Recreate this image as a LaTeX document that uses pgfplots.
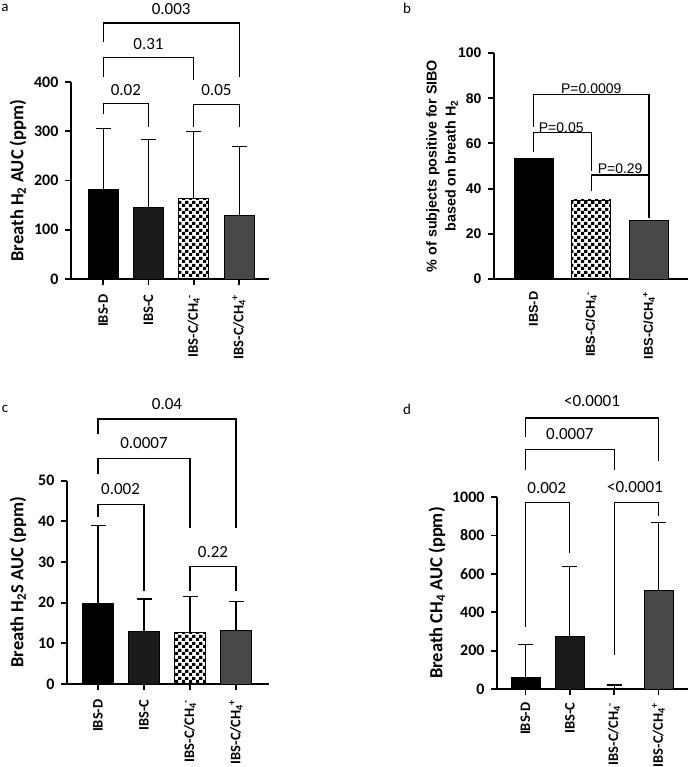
\documentclass[border=0pt]{standalone}
\usepackage{fontspec}
\setmainfont{Carlito}
\newfontfamily\arialf{Liberation Sans}
\usepackage{pgfplots}
\pgfplotsset{compat=1.18}
\usetikzlibrary{patterns}
\pgfdeclarepatternformonly{checker}{\pgfqpoint{0pt}{0pt}}{\pgfqpoint{7pt}{7pt}}{\pgfqpoint{7pt}{7pt}}{%
 \pgfpathrectangle{\pgfqpoint{0pt}{0pt}}{\pgfqpoint{3.5pt}{3.5pt}}%
 \pgfpathrectangle{\pgfqpoint{3.5pt}{3.5pt}}{\pgfqpoint{3.5pt}{3.5pt}}%
 \pgfusepath{fill}}
\definecolor{cD}{RGB}{0,0,0}
\definecolor{cC}{RGB}{26,26,26}
\definecolor{cP}{RGB}{72,72,72}
\newcommand\stk[2]{\textsubscript{#1}\kern-0.5pt\textsuperscript{#2}}
\pgfplotsset{
  panel/.style={
    scale only axis, anchor=south west, clip=false,
    axis x line*=bottom, axis y line*=left,
    axis line style={line width=1.8pt,-},
    tick style={line width=1.8pt,black}, major tick length=6pt, tick align=outside,
    /pgf/number format/assume math mode=true,
    /pgf/number format/1000 sep={},
    scaled y ticks=false, ymin=0,
    xtick={0,1,2,3},
    xticklabels={IBS-D,IBS-C,IBS-C/CH\stk{4}{-},IBS-C/CH\stk{4}{+}},
    x tick label style={rotate=90, anchor=east, font=\bfseries\fontsize{14.5}{14.5}\selectfont},
    xticklabel shift=6pt,
    y tick label style={font=\bfseries\fontsize{16}{16}\selectfont},
    yticklabel shift=3pt,
    ylabel style={anchor=center, font=\bfseries\fontsize{18.5}{18.5}\selectfont},
  },
  bars/.style={ybar, bar shift=0pt, draw=black, line width=0.8pt,
    error bars/y dir=plus, error bars/y explicit,
    error bars/error bar style={line width=1.2pt,black},
    error bars/error mark options={rotate=90, mark size=7.5pt, line width=1.2pt, black}},
  brk/.style={black, line width=1.2pt, mark=none},
}
\newcommand\plab[3]{\node[font=\fontsize{17}{17}\selectfont] at (axis cs:#1,#2) {#3};}
\newcommand\blab[3]{\node[font=\arialf\fontsize{14}{14}\selectfont] at (axis cs:#1,#2) {#3};}
\begin{document}
\begin{tikzpicture}
\useasboundingbox (0,0) rectangle (695pt,-767pt);
\node[font=\fontsize{15}{15}\selectfont] at (5pt,-8pt) {a};
\node[font=\fontsize{15}{15}\selectfont] at (407pt,-8pt) {b};
\node[font=\fontsize{15}{15}\selectfont] at (5pt,-409pt) {c};
\node[font=\fontsize{15}{15}\selectfont] at (407pt,-409pt) {d};
% ---------------- panel a
\begin{axis}[panel, at={(71pt,-279pt)}, width=198pt, height=197pt,
  xmin=-0.71, xmax=3.66, ymax=400, ytick={0,100,200,300,400},
  ylabel={Breath H\textsubscript{2} AUC (ppm)},
  ylabel style={at={(axis description cs:-0.268,0.5)}}]
\addplot[bars, bar width=30pt, fill=cD] coordinates {(0,182) +- (0,124)};
\addplot[bars, bar width=30pt, fill=cC] coordinates {(1,146) +- (0,138)};
\addplot[bars, bar width=30pt, pattern=checker, pattern color=black] coordinates {(2,164) +- (0,135)};
\addplot[bars, bar width=30pt, fill=cP] coordinates {(3,129) +- (0,140)};
\addplot[brk] coordinates {(0,336) (0,357) (1,357) (1,309)};
\addplot[brk] coordinates {(2,309) (2,355) (3,355) (3,309)};
\addplot[brk] coordinates {(0,411) (0,450) (2,450) (2,405)};
\addplot[brk] coordinates {(0,482) (0,520) (3,520) (3,411)};
\plab{0.5}{384}{0.02}
\plab{2.5}{384}{0.05}
\plab{1}{478}{0.31}
\plab{1.5}{549}{0.003}
\end{axis}
% ---------------- panel b
\begin{axis}[panel, at={(494pt,-279pt)}, width=194pt, height=226pt,
  xmin=-0.684, xmax=2.675, ymax=100, ytick={0,20,40,60,80,100},
  xtick={0,1,2}, xticklabels={IBS-D,IBS-C/CH\stk{4}{-},IBS-C/CH\stk{4}{+}},
  x tick label style={font=\arialf\bfseries\fontsize{12.8}{12.8}\selectfont},
  xtick style={draw=none}, xticklabel shift=3pt,
  y tick label style={font=\arialf\bfseries\fontsize{14}{14}\selectfont},
  ylabel={\% of subjects positive for SIBO\\based on breath H\textsubscript{2}},
  ylabel style={at={(axis description cs:-0.268,0.5)}, align=center,
    font=\arialf\bfseries\fontsize{14.3}{19}\selectfont}]
\addplot[bars, bar width=39pt, fill=cD] coordinates {(0,53.2)};
\addplot[bars, bar width=39pt, pattern=checker, pattern color=black] coordinates {(1,35.0)};
\addplot[bars, bar width=39pt, fill=cP] coordinates {(2,25.9)};
\addplot[brk] coordinates {(0,67.4) (0,81.5) (2,81.5) (2,26.9)};
\addplot[brk] coordinates {(0,56.3) (0,64.7) (1,64.7) (1,47.8)};
\addplot[brk] coordinates {(1,39.1) (1,46) (2,46) (2,26.9)};
\blab{1}{84}{P=0.0009}
\blab{0.48}{67}{P=0.05}
\blab{1.5}{49}{P=0.29}
\end{axis}
% ---------------- panel c
\begin{axis}[panel, at={(67pt,-684pt)}, width=202pt, height=203.3pt,
  xmin=-0.674, xmax=3.717, ymax=50, ytick={0,10,20,30,40,50},
  ylabel={Breath H\textsubscript{2}S AUC (ppm)},
  ylabel style={at={(axis description cs:-0.243,0.5)}}]
\addplot[bars, bar width=30.5pt, fill=cD] coordinates {(0,19.8) +- (0,19.1)};
\addplot[bars, bar width=30.5pt, fill=cC] coordinates {(1,13.0) +- (0,7.9)};
\addplot[bars, bar width=30.5pt, pattern=checker, pattern color=black] coordinates {(2,12.7) +- (0,8.9)};
\addplot[bars, bar width=30.5pt, fill=cP] coordinates {(3,13.3) +- (0,6.9)};
\addplot[brk] coordinates {(0,41.1) (0,44.2) (1,44.2) (1,22.9)};
\addplot[brk] coordinates {(0,51.6) (0,55.4) (2,55.4) (2,38.3)};
\addplot[brk] coordinates {(0,61.5) (0,65.2) (3,65.2) (3,38.3)};
\addplot[brk] coordinates {(2,22.95) (2,28.9) (3,28.9) (3,22.95)};
\plab{0.49}{47.9}{0.002}
\plab{1}{59.2}{0.0007}
\plab{1.5}{68.8}{0.04}
\plab{2.5}{32.4}{0.22}
\end{axis}
% ---------------- panel d
\begin{axis}[panel, at={(497pt,-689pt)}, width=191pt, height=192pt,
  xmin=-0.643, xmax=3.666, ymax=1000, ytick={0,200,400,600,800,1000},
  xticklabel shift=4pt,
  ylabel={Breath CH\textsubscript{4} AUC (ppm)},
  ylabel style={at={(axis description cs:-0.314,0.5)}}]
\addplot[bars, bar width=29pt, fill=cD] coordinates {(0,61) +- (0,169)};
\addplot[bars, bar width=29pt, fill=cC] coordinates {(1,276) +- (0,362)};
\addplot[bars, bar width=29pt, pattern=checker, pattern color=black] coordinates {(2,4) +- (0,17)};
\addplot[bars, bar width=29pt, fill=cP] coordinates {(3,513) +- (0,355)};
\addplot[brk] coordinates {(0,325) (0,972) (1,972) (1,708)};
\addplot[brk] coordinates {(2,177) (2,972) (3,972) (3,899)};
\addplot[brk] coordinates {(0,1139) (0,1247) (2,1247) (2,1139)};
\addplot[brk] coordinates {(0,1313) (0,1412) (3,1412) (3,1186)};
\plab{0.48}{1047}{0.002}
\plab{2.47}{1052}{<0.0001}
\plab{1}{1329}{0.0007}
\plab{1.5}{1499}{<0.0001}
\end{axis}
\end{tikzpicture}
\end{document}
